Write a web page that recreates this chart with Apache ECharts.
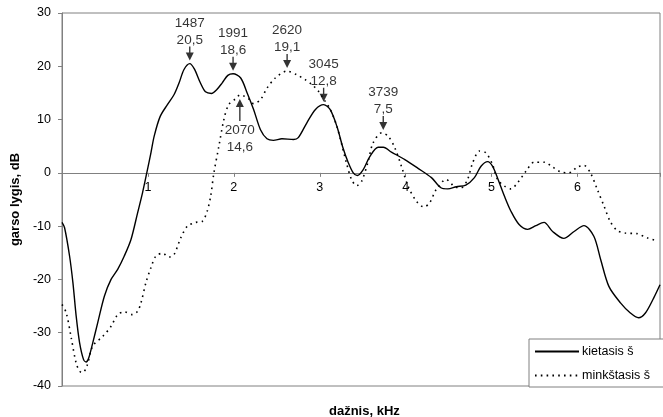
<!DOCTYPE html>
<html>
<head>
<meta charset="utf-8">
<script src="https://cdn.jsdelivr.net/npm/echarts@6/dist/echarts.min.js"></script>
<style>
html,body{margin:0;padding:0;background:#fff;}
#chart{width:663px;height:417px;}
</style>
</head>
<body>
<div id="chart"></div>
<script>
// ---- data ----
const seriesNames = ['kietasis š', 'minkštasis š'];
const xTickLabels = ['1', '2', '3', '4', '5', '6'];
const yTicks = [-40, -30, -20, -10, 0, 10, 20, 30];

// kietasis š: [kHz, dB]
const kietasis = [
  [0, -9.3], [0.03, -10.3], [0.088, -15.6], [0.127, -20.6], [0.165, -26.9], [0.204, -31.8],
  [0.25, -35], [0.28, -35.5], [0.31, -34.8], [0.358, -31.9], [0.416, -28.1], [0.494, -23.1],
  [0.571, -20], [0.648, -18.1], [0.725, -15.6], [0.803, -12.5], [0.88, -7.5], [0.937, -3.75],
  [0.988, 0.1], [1.035, 3.75], [1.073, 6.9], [1.143, 10.6], [1.227, 12.8], [1.305, 14.7],
  [1.363, 16.9], [1.42, 19.4], [1.487, 20.5], [1.54, 19.5], [1.61, 16.9], [1.67, 15.2],
  [1.74, 14.9], [1.8, 15.6], [1.865, 16.9], [1.93, 18.3], [1.991, 18.6], [2.08, 17.8],
  [2.155, 15], [2.23, 11.9], [2.31, 8.1], [2.386, 6.4], [2.46, 6.1], [2.56, 6.4],
  [2.695, 6.25], [2.75, 6.6], [2.85, 9.4], [2.95, 11.9], [3.045, 12.8], [3.12, 11.9],
  [3.2, 8.7], [3.27, 4.7], [3.33, 2], [3.39, 0], [3.437, -0.5], [3.506, 0.6], [3.584, 3.1],
  [3.68, 4.8], [3.74, 4.8], [3.834, 3.9], [3.99, 2.5], [4.14, 0.9], [4.3, -0.9], [4.41, -2.8],
  [4.49, -3], [4.59, -2.6], [4.7, -2.3], [4.8, -0.9], [4.877, 1.25], [4.955, 2.1], [5.01, 1.25],
  [5.07, -1], [5.15, -4.4], [5.225, -7.2], [5.32, -9.7], [5.42, -10.6], [5.515, -9.9],
  [5.61, -9.3], [5.71, -11], [5.84, -12.3], [5.96, -11], [6.075, -9.9], [6.19, -11.9],
  [6.27, -16.3], [6.365, -21.3], [6.5, -24.4], [6.615, -26.3], [6.71, -27.2], [6.79, -26.3],
  [6.886, -23.5], [6.96, -21]
];

// minkštasis š: [kHz, dB]
const minkstasis = [
  [0, -24.7], [0.05, -26.3], [0.108, -31], [0.166, -35.8], [0.21, -37.3], [0.242, -37.5],
  [0.289, -36.3], [0.358, -32.5], [0.474, -30.7], [0.571, -28.8], [0.648, -26.6], [0.725, -26.1],
  [0.82, -26.6], [0.88, -26], [0.919, -24.4], [0.977, -20.6], [1.035, -17.8], [1.093, -15.6],
  [1.17, -15.1], [1.247, -15.8], [1.305, -15.3], [1.382, -12.2], [1.46, -10], [1.556, -9.3],
  [1.633, -9.1], [1.69, -7.2], [1.73, -4.4], [1.768, 0], [1.826, 5], [1.884, 10], [1.94, 12.8],
  [2.02, 13.9], [2.07, 14.6], [2.12, 14.4], [2.174, 13.9], [2.23, 13], [2.31, 13.75],
  [2.386, 15.9], [2.483, 17.8], [2.62, 19.1], [2.733, 18.4], [2.83, 17.5], [2.907, 16.6],
  [2.985, 15.3], [3.06, 13.5], [3.12, 12], [3.2, 8.7], [3.31, 1.9], [3.37, -1.25], [3.43, -2.4],
  [3.487, -1.6], [3.564, 2.2], [3.62, 5.6], [3.72, 7.5], [3.796, 6.9], [3.874, 4.7], [3.95, 1.25],
  [4.028, -2.5], [4.124, -5.3], [4.213, -6.4], [4.28, -5.6], [4.356, -3.1], [4.47, -1.25],
  [4.57, -2.6], [4.645, -2.8], [4.72, -1.25], [4.78, 1.9], [4.86, 4.1], [4.935, 3.75],
  [5.01, 1.6], [5.07, -1.25], [5.15, -2.5], [5.225, -3], [5.3, -1.9], [5.4, 0.3], [5.496, 2],
  [5.61, 2], [5.71, 1.1], [5.8, 0.2], [5.9, 0], [5.998, 1.1], [6.075, 1.4], [6.15, 0],
  [6.23, -3.1], [6.31, -6.3], [6.38, -9.1], [6.46, -10.8], [6.557, -11.3], [6.69, -11.4],
  [6.81, -12.2], [6.94, -12.8]
];

// peak annotations
const annFreqHz = [1487, 1991, 2620, 3045, 3739, 2070];
const annLevelDb = [20.5, 18.6, 19.1, 12.8, 7.5, 14.6];
const annDirection = ['down', 'down', 'down', 'down', 'down', 'up'];

// ---- chart ----
const FONT = '"Liberation Sans", Arial, sans-serif';
const GRAY = '#808080';
const arrowDown = 'path://M3.4,0 L4.6,0 L4.6,6 L7.5,6 L4,14 L0.5,6 L3.4,6 Z';
const arrowUp = 'path://M4,0 L7.5,8 L4.6,8 L4.6,22 L3.4,22 L3.4,8 L0.5,8 Z';

const GRID_TOP = 13, GRID_BOTTOM = 31, CHART_H = 417;
const plotH = CHART_H - GRID_TOP - GRID_BOTTOM;
const yMin = yTicks[0], yMax = yTicks[yTicks.length - 1];
// shift the x axis (line, ticks, labels) up so it sits on the 0 dB level
const xAxisOffset = -plotH * (0 - yMin) / (yMax - yMin);

const annData = annFreqHz.map((f, i) => {
  const down = annDirection[i] === 'down';
  return {
    value: [f / 1000, annLevelDb[i]],
    symbol: down ? arrowDown : arrowUp,
    symbolSize: down ? [8, 14] : [8, 22],
    symbolOffset: down ? [0, -10] : [0, 15],
    label: {
      position: down ? 'top' : 'bottom',
      distance: down ? -2 : 1,
      formatter: f + '\n' + String(annLevelDb[i]).replace('.', ',')
    }
  };
});

const chart = echarts.init(document.getElementById('chart'), null, {renderer: 'canvas'});
chart.setOption({
  animation: false,
  backgroundColor: '#fff',
  textStyle: {fontFamily: FONT},
  grid: {left: 62, right: 0, top: GRID_TOP, bottom: GRID_BOTTOM, show: true, borderColor: GRAY, borderWidth: 1, containLabel: false},
  title: {
    text: 'dažnis, kHz', left: 324, top: 400,
    textStyle: {fontFamily: FONT, fontSize: 13, fontWeight: 'bold', color: '#000'}
  },
  legend: {
    data: seriesNames,
    orient: 'vertical',
    left: 529, top: 339,
    padding: [6, 40, 5, 5],
    itemWidth: 44, itemHeight: 12, itemGap: 11,
    backgroundColor: '#fff',
    borderColor: GRAY, borderWidth: 1,
    itemStyle: {color: 'rgba(0,0,0,0)', borderWidth: 0, opacity: 0},
    textStyle: {fontFamily: FONT, fontSize: 12.5, color: '#000', padding: [0, 0, 0, -2]}
  },
  xAxis: {
    type: 'value', min: 0, max: 6.96, interval: 1,
    position: 'bottom',
    offset: xAxisOffset,
    axisLine: {onZero: false, lineStyle: {color: GRAY, width: 1}},
    axisTick: {show: true, length: 4, lineStyle: {color: GRAY}},
    splitLine: {show: false},
    axisLabel: {
      fontFamily: FONT, fontSize: 12.5, color: '#000', margin: 8,
      formatter: v => (v >= 1 && v <= xTickLabels.length) ? xTickLabels[v - 1] : ''
    }
  },
  yAxis: {
    type: 'value', min: yMin, max: yMax, interval: 10,
    name: 'garso lygis, dB', nameLocation: 'middle', nameRotate: 90, nameGap: 34,
    nameTextStyle: {fontFamily: FONT, fontSize: 13, fontWeight: 'bold', color: '#000'},
    axisLine: {show: true, lineStyle: {color: GRAY, width: 1}},
    axisTick: {show: true, length: 4, lineStyle: {color: GRAY}},
    splitLine: {show: false},
    axisLabel: {fontFamily: FONT, fontSize: 12.5, color: '#000', margin: 11}
  },
  series: [
    {
      name: seriesNames[0], type: 'line', data: kietasis, smooth: 0.3,
      symbol: 'none', showSymbol: false,
      lineStyle: {color: '#000', width: 1.4},
      itemStyle: {color: '#000'}
    },
    {
      name: seriesNames[1], type: 'line', data: minkstasis, smooth: 0.3,
      symbol: 'none', showSymbol: false,
      lineStyle: {color: '#000', width: 1.6, type: [1.6, 4.2]},
      itemStyle: {color: '#000'}
    },
    {
      name: 'annotations', type: 'scatter', data: annData, z: 5, silent: true,
      itemStyle: {color: '#000'},
      label: {show: true, color: '#000', fontFamily: FONT, fontSize: 13.5, lineHeight: 17, align: 'center'}
    }
  ]
});
</script>
</body>
</html>
